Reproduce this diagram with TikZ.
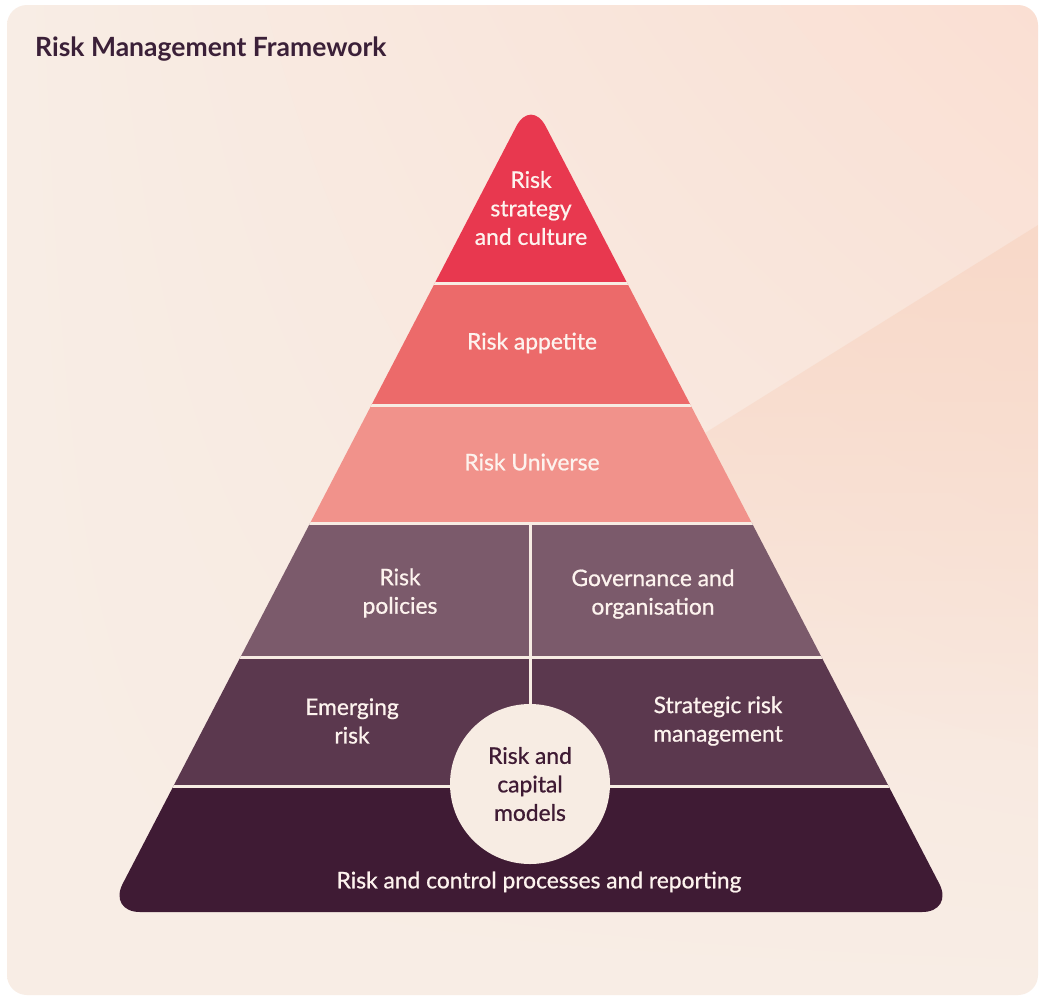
\documentclass[tikz,border=0pt]{standalone}
\usepackage{fontspec}
\setmainfont{Lato}
\newfontfamily\lblfont[FakeBold=0.8]{Lato}
\usetikzlibrary{positioning,fadings,shadings}
\definecolor{bgleft}{HTML}{F8EDE5}
\definecolor{bgright}{HTML}{FADFD3}
\definecolor{bgpeach}{HTML}{F8D9C9}
\definecolor{sepcream}{HTML}{F7ECE3}
\definecolor{titleplum}{HTML}{3B2038}
\definecolor{labelwhite}{HTML}{FDF3EE}
\definecolor{tierA}{HTML}{E8384F}
\definecolor{tierB}{HTML}{EC6A6A}
\definecolor{tierC}{HTML}{F1928B}
\definecolor{tierD}{HTML}{7B5A6B}
\definecolor{tierE}{HTML}{5B384E}
\definecolor{tierF}{HTML}{3F1B34}
\tikzset{
  lbl/.style={text=labelwhite, align=center, inner sep=0, font=\lblfont\fontsize{22.8}{28.5}\selectfont},
  sep/.style={draw=sepcream, line width=3pt},
}
\begin{document}
\begin{tikzpicture}[x=1pt,y=-1pt]
    \useasboundingbox (0,0) rectangle (1040,996);
    % background
    \fill[white] (0,0) rectangle (1040,996);
    \shade[upper left=bgleft, upper right=bgright, lower left=bgleft, lower right=bgleft, rounded corners=20] (7,5) rectangle (1038,995);
    \fill[bgpeach, path fading=south] (700,436) -- (1038,225) -- (1038,760) -- (700,760) -- cycle;
    \node[anchor=base west, inner sep=0, text=titleplum, font=\fontsize{26.5}{30}\selectfont\bfseries] (title) at (35,56) {Risk Management Framework};
    % pyramid
    \coordinate (apex) at (531,98);
    \coordinate (bl) at (108,912);
    \coordinate (br) at (954,912);
    \begin{scope}
        \clip[rounded corners=32] (apex) -- (br) -- (bl) -- cycle;
        \fill[tierA] (0,0) rectangle (1040,283);
        \fill[tierB] (0,283) rectangle (1040,405);
        \fill[tierC] (0,405) rectangle (1040,523);
        \fill[tierD] (0,523) rectangle (1040,657);
        \fill[tierE] (0,657) rectangle (1040,786);
        \fill[tierF] (0,786) rectangle (1040,920);
        \foreach \y in {283,405,523,657,786}
            \draw[sep] (0,\y) -- (1040,\y);
    \end{scope}
    % nodes
    \node[lbl] (culture) at (531,208) {Risk\\strategy\\and culture};
    \node[lbl] (appetite) at (532,343) {Risk appetite};
    \node[lbl] (universe) at (532,462) {Risk Universe};
    \node[lbl] (policies) at (400,593) {Risk\\policies};
    \node[lbl] (governance) at (653,594) {Governance and\\organisation};
    \node[lbl] (emerging) at (352,721) {Emerging\\risk};
    \node[lbl] (strategic) at (718,721) {Strategic risk\\management};
    \node[lbl] (reporting) at (539,882) {Risk and control processes and reporting};
    \coordinate (divtop) at (530,523);
    \node[circle, fill=sepcream, minimum size=160, inner sep=0, align=center, text=tierF, font=\lblfont\fontsize{22.8}{28.5}\selectfont] (models) at (530,784) {Risk and\\capital\\models};
    % divider
    \draw[sep] (divtop) -- (models.north);
\end{tikzpicture}
\end{document}
